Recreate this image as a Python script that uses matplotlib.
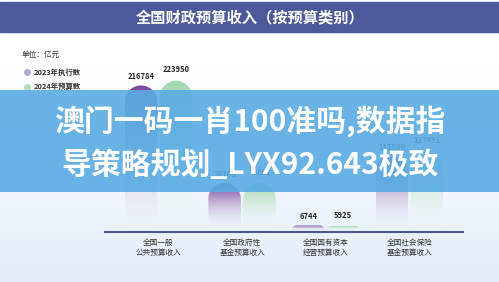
import numpy as np
import matplotlib
matplotlib.use('Agg')
import matplotlib.pyplot as plt
from matplotlib.patches import Rectangle, Polygon
from matplotlib.colors import to_rgb

plt.rcParams['font.family'] = ['Noto Sans CJK SC', 'DejaVu Sans']

# data
title = '全国财政预算收入（按预算类别）'
unit = '单位：亿元'
categories = ['全国一般\n公共预算收入', '全国政府性\n基金预算收入',
              '全国国有资本\n经营预算收入', '全国社会保险\n基金预算收入']
series_names = ['2023年执行数', '2024年预算数']
exec_2023 = [216784, 70705, 6744, 111500]
budget_2024 = [223950, 70802, 5925, 117491]
banner_lines = ['澳门一码一肖100准吗,数据指', '导策略规划_LYX92.643极致']

W, H = 499, 282
fig = plt.figure(figsize=(W/100, H/100), dpi=100)

# background layer in pixel coords
bg = fig.add_axes([0, 0, 1, 1])
bg.set_xlim(0, W)
bg.set_ylim(H, 0)
bg.axis('off')
grad = np.linspace(0, 1, 256)[:, None]
c0 = np.array(to_rgb('#ffffff'))
c1 = np.array(to_rgb('#e2edf9'))
img = c0 + (c1 - c0) * (grad[..., None] ** 1.5)
bg.imshow(img, extent=[0, W, H, 30], aspect='auto', zorder=0)
bg.add_patch(Rectangle((0, 2), W, 29.5, color='#4b5a9c', zorder=1))
bg.text(250, 17, title, color='white', fontsize=11, fontweight='bold',
        ha='center', va='center', zorder=2)
bg.text(22, 55, unit, fontsize=5.5, color='#333333', va='center')
leg_cols = ['#b9a7d8', '#b6dcba']
for i, (nm, col) in enumerate(zip(series_names, leg_cols)):
    y = 72 + i * 14.5
    bg.plot(27, y, 'o', ms=5, color=col, mec='none')
    bg.text(34, y, nm, fontsize=5.3, fontweight='bold', color='#333333', va='center')

# chart axes
ppu_x = 83.6          # pixels per category
upp_y = 1500.0        # value units per pixel
ax_top, ax_bot = 62, 232
ax = fig.add_axes([105/W, (H-ax_bot)/H, (463-105)/W, (ax_bot-ax_top)/H])
ax.patch.set_alpha(0)
y_lo = -3000
y_hi = y_lo + (ax_bot - ax_top) * upp_y
x_lo = (105 - 158.5) / ppu_x
x_hi = (463 - 158.5) / ppu_x

x = np.arange(len(categories))
bw = 32.5 / ppu_x
off = 17.5 / ppu_x

def grad_bar(xc, h, top_col, low_col, lbl_dy):
    x0, x1 = xc - bw/2, xc + bw/2
    h_px = h / upp_y
    r = min(bw * ppu_x / 2, h_px)
    rx, ry = r / ppu_x, r * upp_y
    t1 = np.linspace(0, np.pi/2, 20)
    pts = [(x0, 0), (x1, 0)]
    pts += [(x1 - rx + rx*np.cos(t), h - ry + ry*np.sin(t)) for t in t1]
    pts += [(x0 + rx - rx*np.cos(t), h - ry + ry*np.sin(t)) for t in t1[::-1]]
    clip = Polygon(pts, closed=True, transform=ax.transData, fc='none', ec='none')
    ax.add_patch(clip)
    g = np.linspace(0, 1, 128)[:, None]          # 0 bottom, 1 top
    ct = np.array(to_rgb(top_col)); cl = np.array(to_rgb(low_col))
    rgb = cl + (ct - cl) * g[..., None] ** 1.0
    a = np.clip(g ** 1.2 * 1.15, 0, 1)[..., None]
    im = ax.imshow(np.concatenate([rgb, a], axis=2), extent=[x0, x1, 0, h],
                   origin='lower', aspect='auto', interpolation='bilinear', zorder=2)
    im.set_clip_path(clip)
    ax.annotate(f'{h}', (xc, h), xytext=(0, lbl_dy), textcoords='offset points',
                ha='center', va='bottom', fontsize=5.5, fontweight='bold',
                color='#2a2a2a', zorder=3)

for i in x:
    grad_bar(i - off, exec_2023[i], '#7a4a9f', '#e2dbee', 3)
    grad_bar(i + off, budget_2024[i], '#a6d8b2', '#eef6ef', 4.5)

ax.set_xlim(x_lo, x_hi)
ax.set_ylim(y_lo, y_hi)
ax.set_xticks(x)
ax.set_xticklabels(categories, fontsize=5.5, color='#333333', linespacing=1.3)
ax.tick_params(axis='x', length=0, pad=5)
ax.set_yticks([])
for s in ['left', 'right', 'top']:
    ax.spines[s].set_visible(False)
ax.spines['bottom'].set_color('#4d5889')
ax.spines['bottom'].set_linewidth(1.5)

# overlay banner
ov = fig.add_axes([0, 0, 1, 1], zorder=10)
ov.set_xlim(0, W)
ov.set_ylim(H, 0)
ov.axis('off')
ov.patch.set_alpha(0)
ov.add_patch(Rectangle((0, 90), W, 102, color='#59abe3', alpha=0.9, lw=0))
for ln, yy in zip(banner_lines, [122, 165]):
    ov.text(250, yy, ln, color='white', fontsize=21.5, fontweight='bold',
            ha='center', va='center')

fig.savefig('out.png', dpi=100)
